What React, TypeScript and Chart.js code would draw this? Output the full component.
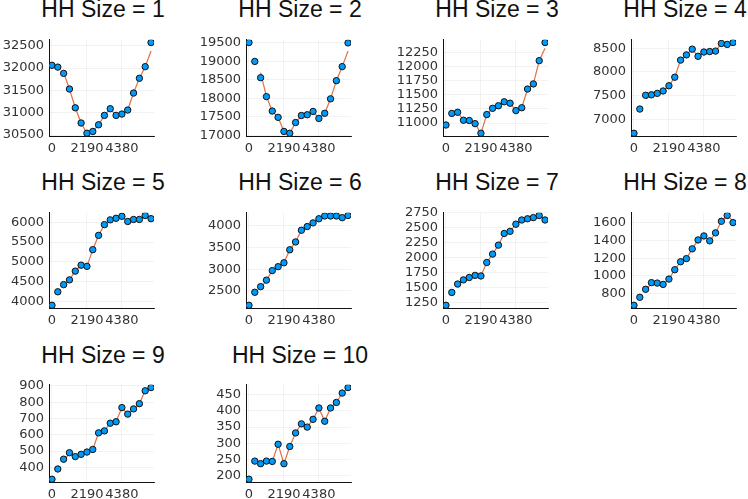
import { useEffect, useRef } from "react";
import { Chart, registerables } from "chart.js";

Chart.register(...registerables);

// days since start, one point per year
const days = [0, 365, 730, 1095, 1460, 1825, 2190, 2555, 2920, 3285, 3650, 4015, 4380, 4745, 5110, 5475, 5840, 6205];
const xTicks = [0, 2190, 4380];

const hh1 = [32060, 32020, 31880, 31530, 31110, 30770, 30540, 30580, 30730, 30940, 31090, 30940, 30970, 31060, 31440, 31770, 32030, 32570];
const hh1Fit = [null, null, 31900, 31530, 31110, 30770, 30540, 30580, 30730, 30940, 31090, 30940, 30970, 31060, 31440, 31770, 32030, 32380];
const hh2 = [19510, 19000, 18560, 18050, 17660, 17490, 17110, 17060, 17350, 17540, 17560, 17650, 17460, 17600, 17990, 18480, 18860, 19500];
const hh2Fit = [null, null, 18700, 18050, 17660, 17490, 17110, 17060, 17350, 17540, 17560, 17650, 17460, 17600, 17990, 18480, 18860, 19280];
const hh3 = [10966, 11170, 11190, 11050, 11045, 10990, 10820, 11150, 11260, 11305, 11375, 11350, 11220, 11270, 11600, 11690, 12100, 12420];
const hh3Fit = [null, null, 11190, 11050, 11045, 10990, 10820, 11150, 11260, 11305, 11375, 11350, 11220, 11270, 11600, 11690, 12100, 12320];
const hh4 = [6710, 7220, 7510, 7520, 7550, 7600, 7710, 7890, 8250, 8360, 8480, 8330, 8420, 8430, 8440, 8600, 8580, 8620];
const hh4Fit = [null, null, 7430, 7520, 7550, 7600, 7710, 7890, 8250, 8360, 8480, 8330, 8420, 8430, 8440, 8600, 8580, 8620];
const hh5 = [3910, 4250, 4430, 4550, 4770, 4920, 4890, 5310, 5670, 5940, 6060, 6100, 6150, 6020, 6070, 6070, 6170, 6090];
const hh5Fit = [null, null, 4380, 4550, 4770, 4920, 4890, 5310, 5670, 5940, 6060, 6100, 6150, 6020, 6070, 6070, 6170, 6110];
const hh6 = [2170, 2470, 2600, 2750, 2970, 3060, 3150, 3450, 3630, 3900, 3985, 4070, 4165, 4230, 4230, 4230, 4190, 4240];
const hh6Fit = [null, null, 2560, 2750, 2970, 3060, 3150, 3450, 3630, 3900, 3985, 4070, 4165, 4230, 4230, 4230, 4190, 4230];
const hh7 = [1205, 1420, 1560, 1630, 1670, 1705, 1695, 1920, 2060, 2210, 2405, 2440, 2560, 2630, 2650, 2670, 2705, 2630];
const hh7Fit = [null, null, 1530, 1630, 1670, 1705, 1695, 1920, 2060, 2210, 2405, 2440, 2560, 2630, 2650, 2670, 2705, 2650];
const hh8 = [670, 760, 850, 925, 920, 905, 965, 1070, 1160, 1195, 1305, 1405, 1450, 1395, 1485, 1615, 1680, 1600];
const hh8Fit = [null, null, 830, 925, 920, 905, 965, 1070, 1160, 1195, 1305, 1405, 1450, 1395, 1485, 1615, 1680, 1620];
const hh9 = [327, 390, 450, 490, 466, 480, 494, 510, 612, 624, 671, 680, 767, 727, 759, 791, 870, 890];
const hh9Fit = [null, null, 435, 490, 466, 480, 494, 510, 612, 624, 671, 680, 767, 727, 759, 791, 870, 885];
const hh10 = [189, 245, 237, 245, 244, 297, 237, 290, 332, 360, 350, 374, 409, 368, 409, 426, 455, 472];
const hh10Fit = [null, null, 242, 245, 244, 297, 237, 290, 332, 360, 350, 374, 409, 368, 409, 426, 455, 470];

const titles = ["HH Size = 1", "HH Size = 2", "HH Size = 3", "HH Size = 4", "HH Size = 5", "HH Size = 6", "HH Size = 7", "HH Size = 8", "HH Size = 9", "HH Size = 10"];
const yStep = [500, 500, 250, 500, 500, 500, 250, 200, 100, 50];
const points = [hh1, hh2, hh3, hh4, hh5, hh6, hh7, hh8, hh9, hh10];
const fits = [hh1Fit, hh2Fit, hh3Fit, hh4Fit, hh5Fit, hh6Fit, hh7Fit, hh8Fit, hh9Fit, hh10Fit];

// plot-area placement of each subplot
const plotLeft = [49, 246, 443, 631];
const rows = [
  { titleTop: -2.5, plotTop: 35, plotBottom: 136 },
  { titleTop: 170.5, plotTop: 208, plotBottom: 308 },
  { titleTop: 343.5, plotTop: 380, plotBottom: 482 },
];
const PLOT_W = 108;
const Y_W = 51;
const X_H = 24;
const TOP_PAD = 8;
const TICK_FONT = "'DejaVu Sans', sans-serif";
const TITLE_FONT = "'Liberation Sans', Arial, sans-serif";

function Panel({ idx }: { idx: number }) {
  const ref = useRef<HTMLCanvasElement | null>(null);
  const col = idx % 4;
  const row = rows[Math.floor(idx / 4)];
  const left = plotLeft[col] - Y_W;
  const top = row.plotTop - TOP_PAD;
  const width = Y_W + PLOT_W + 2;
  const height = row.plotBottom + X_H - top;

  useEffect(() => {
    const el = ref.current;
    if (!el) return;
    const ys = points[idx];
    const fs = fits[idx];
    const all = [...ys, ...(fs.filter((v) => v !== null) as number[])];
    const lo = Math.min(...all);
    const hi = Math.max(...all);
    const pad = (hi - lo) * 0.03;
    const xPad = (days[days.length - 1] - days[0]) * 0.03;
    const step = yStep[idx];

    const chart = new Chart(el, {
      type: "line",
      data: {
        datasets: [
          {
            data: days.map((d, i) => ({ x: d, y: ys[i] })),
            showLine: false,
            pointRadius: 3.2,
            pointBackgroundColor: "#009AFA",
            pointBorderColor: "#111",
            pointBorderWidth: 1,
          },
          {
            data: days.map((d, i) => ({ x: d, y: fs[i] })),
            borderColor: "#E26F46",
            borderWidth: 1.2,
            pointRadius: 0,
            spanGaps: false,
            tension: 0,
          },
        ],
      },
      options: {
        animation: false,
        responsive: false,
        events: [],
        layout: { padding: { top: TOP_PAD, right: 2, bottom: 0, left: 0 } },
        plugins: {
          legend: { display: false },
          tooltip: { enabled: false },
        },
        scales: {
          x: {
            type: "linear",
            min: days[0] - xPad,
            max: days[days.length - 1] + xPad,
            afterBuildTicks: (s: any) => {
              s.ticks = xTicks.map((v) => ({ value: v }));
            },
            afterFit: (s: any) => {
              s.height = X_H;
            },
            ticks: {
              color: "#333",
              font: { family: TICK_FONT, size: 13 },
              padding: 5,
              maxRotation: 0,
              autoSkip: false,
              callback: (v: any) => String(v),
            },
            grid: { color: "rgba(0,0,0,0.08)", lineWidth: 0.7, drawTicks: false },
            border: { display: true, color: "#111", width: 1 },
          },
          y: {
            type: "linear",
            min: lo - pad,
            max: hi + pad,
            afterBuildTicks: (s: any) => {
              const t = [];
              for (let v = Math.ceil(s.min / step) * step; v <= s.max; v += step) t.push({ value: v });
              s.ticks = t;
            },
            afterFit: (s: any) => {
              s.width = Y_W;
            },
            ticks: {
              color: "#333",
              font: { family: TICK_FONT, size: 13 },
              padding: 5,
              autoSkip: false,
              callback: (v: any) => String(v),
            },
            grid: { color: "rgba(0,0,0,0.08)", lineWidth: 0.7, drawTicks: false },
            border: { display: true, color: "#111", width: 1 },
          },
        },
      },
    });
    return () => chart.destroy();
  }, [idx]);

  return (
    <>
      <div
        style={{
          position: "absolute",
          left: plotLeft[col],
          top: row.titleTop,
          width: PLOT_W,
          display: "flex",
          justifyContent: "center",
          whiteSpace: "nowrap",
          fontFamily: TITLE_FONT,
          fontSize: 23,
          lineHeight: "23px",
          color: "#111",
        }}
      >
        {titles[idx]}
      </div>
      <canvas
        ref={ref}
        width={width}
        height={height}
        style={{ position: "absolute", left, top, width, height }}
      />
    </>
  );
}

export default function App() {
  return (
    <div
      style={{
        position: "fixed",
        left: 0,
        top: 0,
        width: 748,
        height: 499,
        background: "#fff",
        overflow: "hidden",
      }}
    >
      {titles.map((_, i) => (
        <Panel key={i} idx={i} />
      ))}
    </div>
  );
}
